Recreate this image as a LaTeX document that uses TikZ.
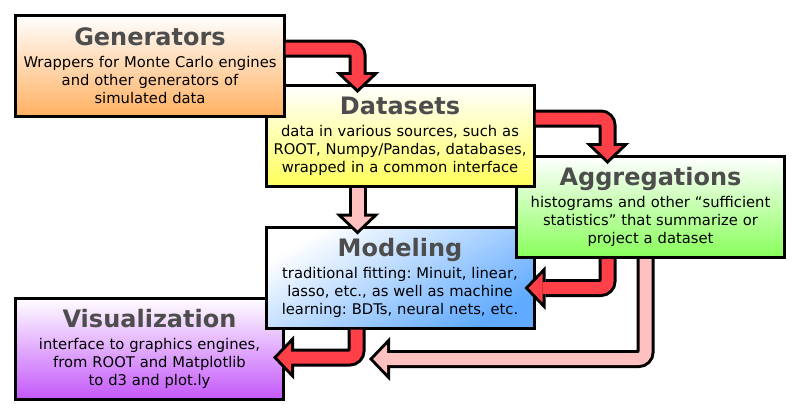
\documentclass[tikz,border=0pt]{standalone}
\usepackage{fontspec}
\setmainfont{DejaVu Sans}
\usetikzlibrary{positioning,calc,arrows.meta}

\definecolor{headgray}{HTML}{4D4D4D}
\definecolor{flowred}{HTML}{FF4048}
\definecolor{flowpink}{HTML}{FFC0C0}
\definecolor{genorange}{HTML}{FFB060}
\definecolor{datayellow}{HTML}{FFFF5A}
\definecolor{aggrgreen}{HTML}{88FF5A}
\definecolor{modelblue}{HTML}{60AAFF}
\definecolor{vispurple}{HTML}{C458FA}

\newcommand{\blocktitle}[1]{{\fontsize{24bp}{24bp}\selectfont\bfseries\color{headgray}#1}}

\begin{document}
\begin{tikzpicture}[x=1bp,y=-1bp,on grid,
  block/.style={draw=black,line width=3bp,minimum width=268bp,minimum height=101bp,
    inner sep=0pt,text width=264bp,align=center,
    font=\fontsize{14.75bp}{18bp}\selectfont\frenchspacing,
    top color=white,shading angle=62},
  flow/.style={line width=12bp,rounded corners=7bp,shorten >=4.15bp,
    -{Triangle[length=13.85bp,width=29bp,line width=0pt]},
    preaction={draw=black,line width=18bp,shorten >=0pt,
      -{Triangle[length=21bp,width=44bp,line width=0pt]}}}]

\useasboundingbox (0,0) rectangle (800,415);

% boxes from the bottom up, so that each one lies over the next
\node[block,bottom color=vispurple] (vis) at (149.5,348.5)
  {\blocktitle{Visualization}\\[4bp] interface to graphics engines,\\ from ROOT and Matplotlib\\ to d3 and plot.ly};
\node[block,bottom color=modelblue,shading angle=30] (model) [above right=71bp and 250.5bp of vis]
  {\blocktitle{Modeling}\\[4bp] traditional fitting: Minuit, linear,\\ lasso, etc., as well as machine\\ learning: BDTs, neural nets, etc.};
\node[block,bottom color=aggrgreen] (aggr) [above right=70.5bp and 250.5bp of model]
  {\blocktitle{Aggregations}\\[4bp] histograms and other “sufficient\\ statistics” that summarize or\\ project a dataset};
\node[block,bottom color=datayellow] (data) [above=141.5bp of model]
  {\blocktitle{Datasets}\\[4bp] data in various sources, such as\\ ROOT, Numpy/Pandas, databases,\\ wrapped in a common interface};
\node[block,bottom color=genorange] (gen) [above left=70bp and 250bp of data]
  {\blocktitle{Generators}\\[4bp] Wrappers for Monte Carlo engines\\ and other generators of\\ simulated data};

\coordinate (visin) at ($(model.south)+(-31,29.5)$);

\draw[flow,draw=flowred] ($(gen.east)+(0,-17.5)$) -| ($(data.north)+(-42.5,9)$);
\draw[flow,draw=flowred] ($(data.east)+(0,-17.5)$) -| ($(aggr.north)+(-43,9)$);
\draw[flow,draw=flowpink] ($(data.south)+(-42.5,0)$) -- ($(model.north)+(-42.5,9)$);
\draw[flow,draw=flowred] ($(aggr.south)+(-43,0)$) |- ($(model.east)+(-11,10.5)$);
\draw[flow,draw=flowred] ($(model.south)+(-43.5,0)$) |- ($(vis.east)+(-12,9)$);
\draw[flow,draw=flowpink] ($(aggr.south)+(-5,0)$) |- (visin);
\end{tikzpicture}
\end{document}
